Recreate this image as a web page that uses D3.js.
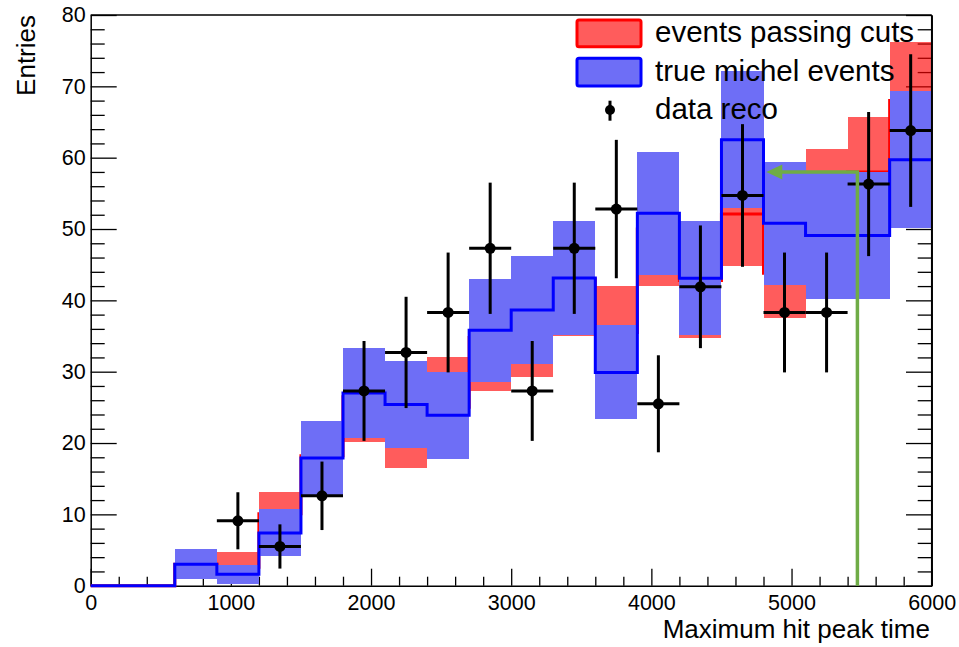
<!DOCTYPE html>
<html><head><meta charset="utf-8">
<script src="https://cdn.jsdelivr.net/npm/d3@7"></script>
<style>
body{margin:0;background:#fff}
svg{display:block}
text{font-family:"Liberation Sans",Arial,Helvetica,sans-serif;fill:#000}
</style>
</head><body>
<svg id="c" width="959" height="647"></svg>
<script>
// ---- data ----
const binLow = [0,300,600,900,1200,1500,1800,2100,2400,2700,3000,3300,3600,3900,4200,4500,4800,5100,5400,5700];
const binWidth = 300;
const passingCuts    = [0,0,3.0,2.6,10.1,18.2,26.5,23.5,25.0,34.8,37.0,43.0,35.5,50.0,42.8,52.1,43.8,53.0,58.0,68.0];
const passingCutsErr = [0,0,2.0,2.1,3.0,4.3,6.3,7.0,7.0,7.5,7.8,8.0,6.5,8.0,8.1,7.3,6.3,8.2,7.65,8.2];
const trueMichel     = [0,0,3.0,1.6,7.4,17.9,27.0,25.4,23.9,35.8,38.65,43.15,29.9,52.2,43.1,62.5,50.8,49.1,49.1,59.7];
const trueMichelErr  = [0,0,2.1,1.3,3.3,5.2,6.3,6.1,6.1,7.2,7.6,8.0,6.6,8.6,8.0,9.6,8.6,8.9,8.9,9.6];
const dataCenters = [1050,1350,1650,1950,2250,2550,2850,3150,3450,3750,4050,4350,4650,4950,5250,5550,5850];
const dataReco    = [9.1,5.5,12.6,27.3,32.7,38.3,47.3,27.3,47.3,52.8,25.5,41.9,54.7,38.3,38.3,56.3,63.8];
const dataErr     = [4.0,3.1,4.8,7.0,7.8,8.4,9.2,7.0,9.2,9.7,6.8,8.6,10.0,8.4,8.4,10.1,10.7];
const xMajorTicks = [0,1000,2000,3000,4000,5000,6000];
const xMinorTicks = [200,400,600,800,1200,1400,1600,1800,2200,2400,2600,2800,3200,3400,3600,3800,4200,4400,4600,4800,5200,5400,5600,5800];
const yMajorTicks = [0,10,20,30,40,50,60,70,80];
const yMinorTicks = [2,4,6,8,12,14,16,18,22,24,26,28,32,34,36,38,42,44,46,48,52,54,56,58,62,64,66,68,72,74,76,78];
const cutValue = 5470, cutArrowY = 58.0, cutArrowTip = 4820;
const legendLabels = ["events passing cuts","true michel events","data reco"];
const xTitle = "Maximum hit peak time", yTitle = "Entries";

// ---- drawing ----
const svg = d3.select("#c");
const X0 = 90.7, X1 = 931.7, Y0 = 585.7, Y1 = 15;
const x = d3.scaleLinear().domain([0,6000]).range([X0,X1]);
const y = d3.scaleLinear().domain([0,80]).range([Y0,Y1]);

const redFill = "#ff0000", redOpacity = 0.64;
const blueFill = "#6e6ef6";

function styleAxis(g, fs){
  g.selectAll(".domain").attr("stroke","#000").attr("stroke-width",1.5);
  g.selectAll(".tick line").attr("stroke","#000").attr("stroke-width",1.3);
  g.selectAll(".tick text").style("font-size",fs+"px").attr("fill","#000");
}
// bottom
let g = svg.append("g").attr("transform",`translate(0,${Y0})`)
  .call(d3.axisBottom(x).tickValues(xMajorTicks).tickSizeInner(-17).tickSizeOuter(0).tickPadding(9).tickFormat(d3.format("d")));
styleAxis(g,21.5);
g = svg.append("g").attr("transform",`translate(0,${Y0})`)
  .call(d3.axisBottom(x).tickValues(xMinorTicks).tickSizeInner(-9).tickSizeOuter(0).tickFormat(""));
g.select(".domain").remove(); styleAxis(g,21.5);
// left
g = svg.append("g").attr("transform",`translate(${X0},0)`)
  .call(d3.axisLeft(y).tickValues(yMajorTicks).tickSizeInner(-26).tickSizeOuter(0).tickPadding(5).tickFormat(d3.format("d")));
styleAxis(g,21.5);
g = svg.append("g").attr("transform",`translate(${X0},0)`)
  .call(d3.axisLeft(y).tickValues(yMinorTicks).tickSizeInner(-14).tickSizeOuter(0).tickFormat(""));
g.select(".domain").remove(); styleAxis(g,21.5);
// right
g = svg.append("g").attr("transform",`translate(${X1},0)`)
  .call(d3.axisRight(y).tickValues(yMajorTicks).tickSizeInner(-25.7).tickSizeOuter(0).tickFormat(""));
styleAxis(g,21.5);
g = svg.append("g").attr("transform",`translate(${X1},0)`)
  .call(d3.axisRight(y).tickValues(yMinorTicks).tickSizeInner(-14).tickSizeOuter(0).tickFormat(""));
g.select(".domain").remove(); styleAxis(g,21.5);

const bins = binLow.map((b,i)=>({x0:b,x1:b+binWidth,i}));
const stepLine = d3.line().x(d=>x(d[0])).y(d=>y(d[1])).curve(d3.curveStepAfter);
function stepPoints(vals){ const p = binLow.map((b,i)=>[b,vals[i]]); p.push([binLow[binLow.length-1]+binWidth, vals[vals.length-1]]); return p; }

// red band + line
svg.append("g").selectAll("rect").data(bins.filter(d=>passingCutsErr[d.i]>0)).join("rect")
  .attr("x",d=>x(d.x0)).attr("width",d=>x(d.x1)-x(d.x0))
  .attr("y",d=>y(passingCuts[d.i]+passingCutsErr[d.i]))
  .attr("height",d=>y(Math.max(0,passingCuts[d.i]-passingCutsErr[d.i]))-y(passingCuts[d.i]+passingCutsErr[d.i]))
  .attr("fill",redFill).attr("fill-opacity",redOpacity).attr("shape-rendering","crispEdges");
svg.append("path").attr("d",stepLine(stepPoints(passingCuts))).attr("fill","none").attr("stroke","#ff0000").attr("stroke-width",3);
// blue band + line
svg.append("g").selectAll("rect").data(bins.filter(d=>trueMichelErr[d.i]>0)).join("rect")
  .attr("x",d=>x(d.x0)).attr("width",d=>x(d.x1)-x(d.x0))
  .attr("y",d=>y(trueMichel[d.i]+trueMichelErr[d.i]))
  .attr("height",d=>y(Math.max(0,trueMichel[d.i]-trueMichelErr[d.i]))-y(trueMichel[d.i]+trueMichelErr[d.i]))
  .attr("fill",blueFill).attr("shape-rendering","crispEdges");
svg.append("path").attr("d",stepLine(stepPoints(trueMichel))).attr("fill","none").attr("stroke","#0000ff").attr("stroke-width",3);

// data points
const dg = svg.append("g");
dataCenters.forEach((c,i)=>{
  dg.append("line").attr("x1",x(c-binWidth/2)).attr("x2",x(c+binWidth/2)).attr("y1",y(dataReco[i])).attr("y2",y(dataReco[i]))
    .attr("stroke","#000").attr("stroke-width",3);
  dg.append("line").attr("x1",x(c)).attr("x2",x(c)).attr("y1",y(dataReco[i]-dataErr[i])).attr("y2",y(dataReco[i]+dataErr[i]))
    .attr("stroke","#000").attr("stroke-width",3);
  dg.append("circle").attr("cx",x(c)).attr("cy",y(dataReco[i])).attr("r",5.5).attr("fill","#000");
});

// cut arrow
const green = "#6fac46";
svg.append("path").attr("d",`M${x(cutValue)},${y(0)}V${y(cutArrowY)}H${x(cutArrowTip)+14}`)
  .attr("fill","none").attr("stroke",green).attr("stroke-width",3.5);
svg.append("path").attr("d",`M${x(cutArrowTip)},${y(cutArrowY)}L${x(cutArrowTip)+16},${y(cutArrowY)-7.5}L${x(cutArrowTip)+16},${y(cutArrowY)+7.5}Z`)
  .attr("fill",green);

// frame
svg.append("line").attr("x1",X0).attr("x2",X1).attr("y1",Y1).attr("y2",Y1).attr("stroke","#000").attr("stroke-width",1.3);
svg.append("line").attr("x1",X1).attr("x2",X1).attr("y1",Y1).attr("y2",Y0).attr("stroke","#000").attr("stroke-width",1.5);

// titles
svg.append("text").attr("x",930).attr("y",638).attr("text-anchor","end").style("font-size","26px").text(xTitle);
svg.append("text").attr("transform","translate(34.5,15) rotate(-90)").attr("text-anchor","end").style("font-size","26px").text(yTitle);

// legend
const lg = svg.append("g");
lg.append("rect").attr("x",577).attr("y",20).attr("width",64).attr("height",26.7).attr("rx",2)
  .attr("fill",redFill).attr("fill-opacity",redOpacity).attr("stroke","#ff0000").attr("stroke-width",3);
lg.append("rect").attr("x",577).attr("y",58.3).attr("width",64).attr("height",27.7).attr("rx",2)
  .attr("fill",blueFill).attr("stroke","#0000ff").attr("stroke-width",3);
lg.append("line").attr("x1",610).attr("x2",610).attr("y1",100.7).attr("y2",120.7).attr("stroke","#000").attr("stroke-width",3);
lg.append("circle").attr("cx",610).attr("cy",110).attr("r",5).attr("fill","#000");
[42,80.5,118.5].forEach((b,i)=>{
  lg.append("text").attr("x",655).attr("y",b).style("font-size","29.5px").text(legendLabels[i]);
});
</script>
</body></html>
